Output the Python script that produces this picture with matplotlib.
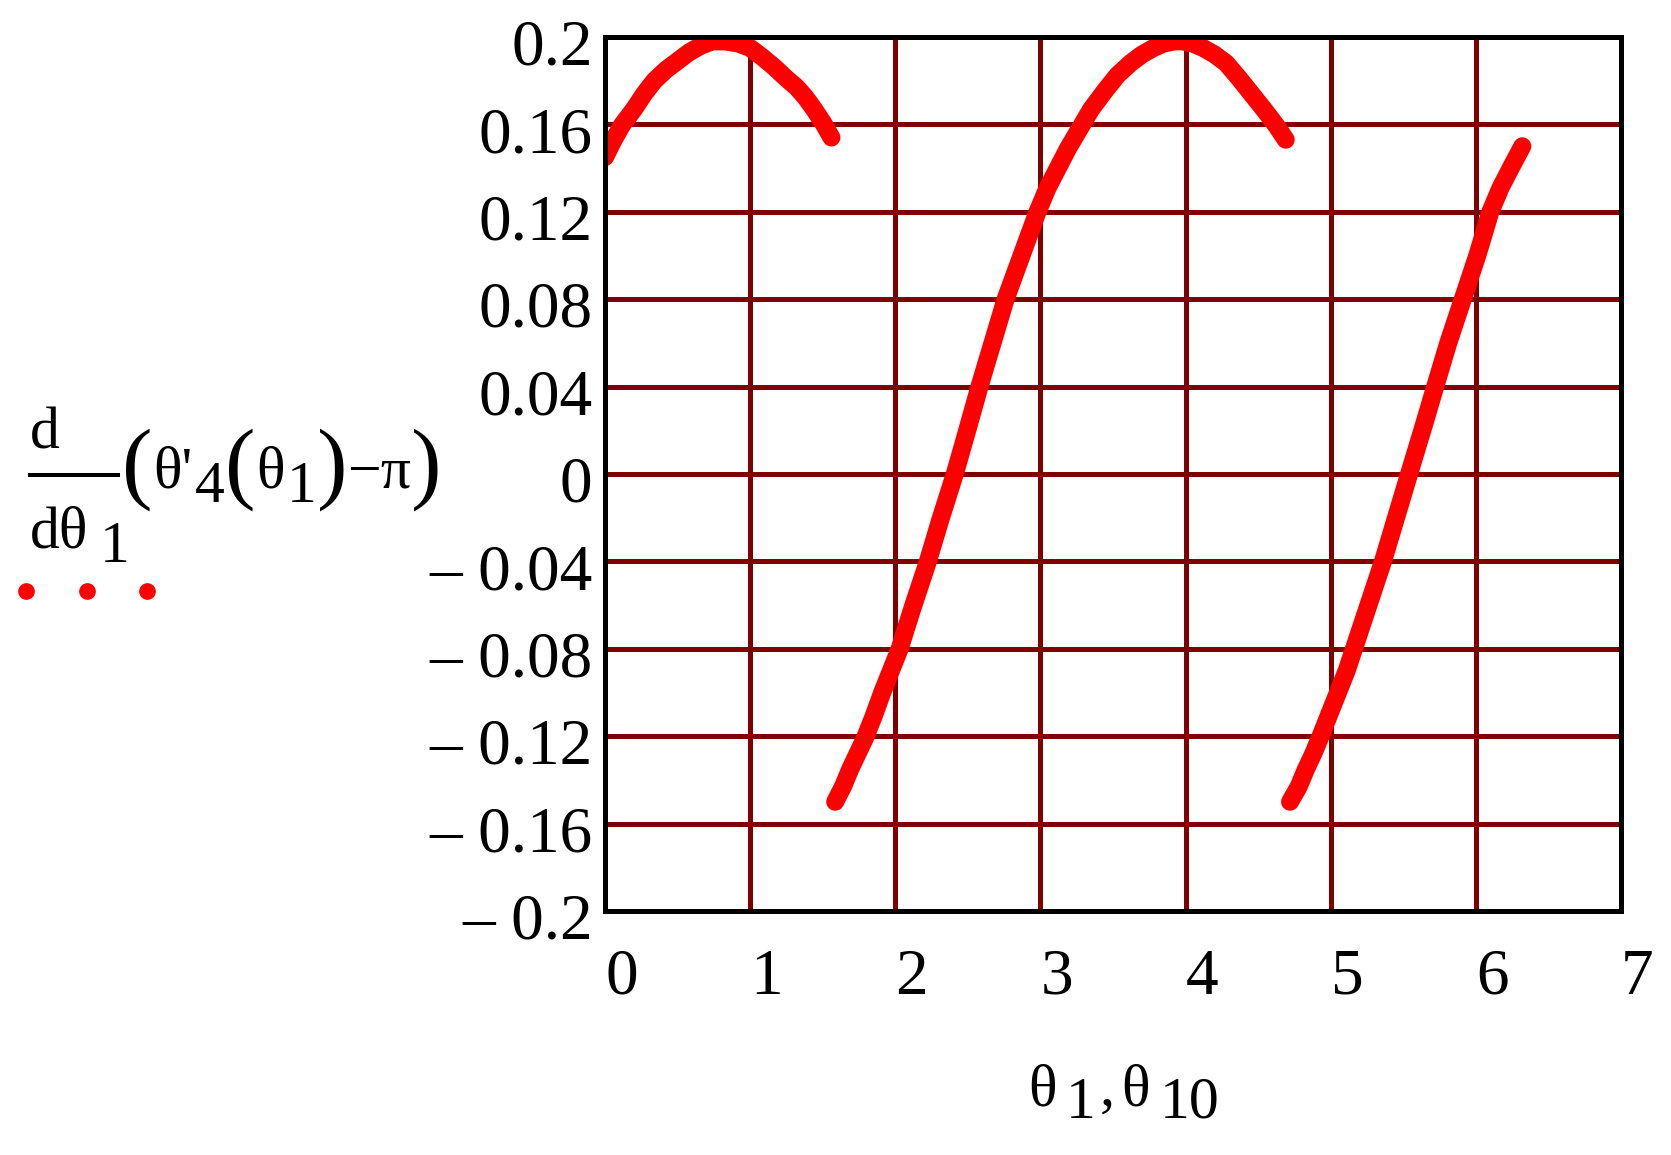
import numpy as np
import matplotlib.pyplot as plt
import matplotlib.transforms as mtransforms
from matplotlib.lines import Line2D

# values (theta_1 in rad, derivative value)
seg1_x = [0.0, 0.06, 0.12, 0.2, 0.27, 0.34, 0.42, 0.5, 0.58, 0.66, 0.74, 0.83, 0.92, 1.0, 1.08,
          1.17, 1.25, 1.32, 1.38, 1.44, 1.5, 1.56]
seg1_y = [0.145, 0.153, 0.160, 0.167, 0.174, 0.180, 0.185, 0.189, 0.193, 0.196, 0.198, 0.198, 0.197,
          0.195, 0.191, 0.186, 0.181, 0.177, 0.1725, 0.167, 0.161, 0.154]

seg2_x = [1.586, 1.64, 1.69, 1.74, 1.79, 1.85, 1.91, 1.97, 2.03, 2.12, 2.22, 2.31, 2.41, 2.50, 2.58,
          2.67, 2.76, 2.87, 2.98, 3.05, 3.12, 3.19, 3.27, 3.35, 3.44, 3.53, 3.62, 3.70, 3.78, 3.85,
          3.92, 3.98, 4.05, 4.12, 4.20, 4.28, 4.37, 4.46, 4.55, 4.63, 4.69]
seg2_y = [-0.150, -0.143, -0.135, -0.128, -0.121, -0.111, -0.100, -0.090, -0.080, -0.061, -0.041,
          -0.021, 0.000, 0.021, 0.040, 0.060, 0.080, 0.100, 0.120, 0.131, 0.140, 0.149, 0.158, 0.167,
          0.175, 0.1825, 0.188, 0.192, 0.195, 0.197, 0.198, 0.198, 0.197, 0.195, 0.192, 0.188, 0.181,
          0.1735, 0.166, 0.159, 0.153]

seg3_x = [4.72, 4.78, 4.83, 4.88, 4.93, 4.99, 5.05, 5.11, 5.16, 5.26, 5.36, 5.45, 5.54, 5.64, 5.72,
          5.81, 5.91, 6.01, 6.10, 6.17, 6.24, 6.32]
seg3_y = [-0.150, -0.143, -0.135, -0.128, -0.120, -0.110, -0.100, -0.090, -0.080, -0.060, -0.040,
          -0.020, 0.000, 0.022, 0.040, 0.060, 0.080, 0.100, 0.120, 0.131, 0.140, 0.150]

x_ticks = [0, 1, 2, 3, 4, 5, 6, 7]
y_ticks = [0.2, 0.16, 0.12, 0.08, 0.04, 0, -0.04, -0.08, -0.12, -0.16, -0.2]
y_labels = ['0.2', '0.16', '0.12', '0.08', '0.04', '0', '\u2013 0.04', '\u2013 0.08', '\u2013 0.12',
            '\u2013 0.16', '\u2013 0.2']

W, H = 1671, 1155
serif = 'Liberation Serif'
grid_col = '#800000'

fig = plt.figure(figsize=(W/100, H/100), dpi=100)
ax = fig.add_axes([605/W, 1-911/H, (1621-605)/W, (911-37)/H])

for sx, sy in [(seg1_x, seg1_y), (seg2_x, seg2_y), (seg3_x, seg3_y)]:
    ax.plot(sx, sy, color='#ff0000', lw=13, solid_capstyle='round', solid_joinstyle='round')

ax.set_xlim(0, 7)
ax.set_ylim(-0.2, 0.2)
ax.set_xticks(x_ticks)
ax.set_xticklabels([str(t) for t in x_ticks])
ax.set_yticks(y_ticks)
ax.set_yticklabels(y_labels)
ax.set_axisbelow(True)
ax.grid(True, color=grid_col, lw=3.6)
for s in ax.spines.values():
    s.set_linewidth(3.6)
    s.set_color('black')
ax.tick_params(length=0, labelsize=47)
ax.tick_params(axis='y', pad=9)
ax.tick_params(axis='x', pad=27)
shift = mtransforms.ScaledTranslation(0, -5/100, fig.dpi_scale_trans)
for lab in ax.get_xticklabels() + ax.get_yticklabels():
    lab.set_fontfamily(serif)
for lab in ax.get_xticklabels():
    lab.set_horizontalalignment('left')
for lab in ax.get_yticklabels():
    lab.set_transform(lab.get_transform() + shift)


def px_text(x, y, s, size=43):
    fig.text(x/W, 1-y/H, s, fontsize=size, family=serif, ha='left', va='baseline')


# y-axis expression  d/dθ1 (θ'4(θ1) − π)
px_text(30, 448, 'd')
fig.add_artist(Line2D([30/W, 118/W], [1-475/H, 1-475/H], color='black', lw=2.9))
px_text(30, 548, 'd\u03b8')
px_text(100, 562, '1')
px_text(122, 492, '(', 66)
px_text(153, 487, '\u03b8\'')
px_text(195, 502, '4')
px_text(225, 492, '(', 66)
px_text(256, 487, '\u03b8')
px_text(287, 502, '1')
px_text(317, 492, ')', 66)
px_text(347, 487, '\u2212\u03c0')
px_text(411, 492, ')', 66)
fig.add_artist(Line2D([26/W, 87/W, 147/W], [1-591/H]*3, ls='none', marker='o',
                      ms=11, color='#ff0000'))

# x-axis label  θ1, θ10
px_text(1028, 1105, '\u03b8')
px_text(1066, 1118, '1')
px_text(1100, 1105, ',')
px_text(1121, 1105, '\u03b8')
px_text(1160, 1118, '10')

plt.savefig('out.png', dpi=100)
